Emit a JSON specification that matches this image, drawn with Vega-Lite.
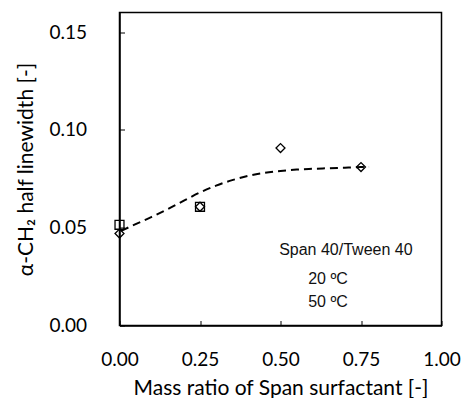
{
  "$schema": "https://vega.github.io/schema/vega-lite/v6.json",
  "width": 322,
  "height": 313,
  "autosize": "none",
  "padding": {"left": 119.5, "top": 12.5, "right": 20.5, "bottom": 72.5},
  "background": "white",
  "config": {
    "view": {"stroke": "#000", "strokeWidth": 1.5},
    "axis": {
      "grid": false,
      "domainColor": "#000",
      "domainWidth": 1.5,
      "tickColor": "#000",
      "tickWidth": 1,
      "labelColor": "#000",
      "titleColor": "#000",
      "labelFont": "Lato",
      "titleFont": "Lato",
      "labelFontSize": 19,
      "titleFontSize": 21,
      "titleFontWeight": "normal",
      "labelFlush": false,
      "labelOverlap": false
    }
  },
  "datasets": {
    "curve": [
      {"x": 0.005, "y": 0.0484},
      {"x": 0.05, "y": 0.0518},
      {"x": 0.1, "y": 0.0555},
      {"x": 0.15, "y": 0.0595},
      {"x": 0.2, "y": 0.0638},
      {"x": 0.25, "y": 0.068},
      {"x": 0.3, "y": 0.0715},
      {"x": 0.35, "y": 0.0743},
      {"x": 0.4, "y": 0.0765},
      {"x": 0.45, "y": 0.078},
      {"x": 0.5, "y": 0.079},
      {"x": 0.55, "y": 0.0797},
      {"x": 0.6, "y": 0.0801},
      {"x": 0.65, "y": 0.0804},
      {"x": 0.7, "y": 0.0807},
      {"x": 0.75, "y": 0.081},
      {"x": 0.775, "y": 0.0811}
    ],
    "points": [
      {"x": 0.0, "y": 0.0515, "temp": "20 ºC"},
      {"x": 0.25, "y": 0.0607, "temp": "20 ºC"},
      {"x": 0.0, "y": 0.047, "temp": "50 ºC"},
      {"x": 0.25, "y": 0.0607, "temp": "50 ºC"},
      {"x": 0.5, "y": 0.0907, "temp": "50 ºC"},
      {"x": 0.75, "y": 0.081, "temp": "50 ºC"}
    ],
    "notes": [
      {"x": 0.703, "y": 0.0385, "label": "Span 40/Tween 40"},
      {"x": 0.6475, "y": 0.0237, "label": "20 ºC"},
      {"x": 0.6475, "y": 0.0121, "label": "50 ºC"}
    ]
  },
  "layer": [
    {
      "data": {"name": "curve"},
      "mark": {"type": "line", "color": "#000", "strokeWidth": 2, "strokeDash": [8, 5], "interpolate": "monotone"},
      "encoding": {
        "x": {
          "field": "x", "type": "quantitative",
          "scale": {"domain": [0, 1], "nice": false},
          "axis": {
            "values": [0, 0.25, 0.5, 0.75, 1],
            "format": ".2f",
            "tickSize": -5,
            "labelPadding": 30,
            "title": "Mass ratio of Span surfactant [-]",
            "titleBaseline": "alphabetic",
            "titleY": 69
          }
        },
        "y": {
          "field": "y", "type": "quantitative",
          "scale": {"domain": [0, 0.16], "nice": false},
          "axis": {
            "values": [0, 0.05, 0.1, 0.15],
            "format": ".2f",
            "tickSize": -5,
            "labelPadding": 38,
            "title": "α-CH₂ half linewidth [-]",
            "titleBaseline": "alphabetic",
            "titleX": -87.5
          }
        }
      }
    },
    {
      "data": {"name": "points"},
      "mark": {"type": "point", "filled": false, "strokeWidth": 1.3, "size": 80, "opacity": 1},
      "encoding": {
        "x": {"field": "x", "type": "quantitative"},
        "y": {"field": "y", "type": "quantitative"},
        "shape": {
          "field": "temp", "type": "nominal",
          "scale": {"domain": ["20 ºC", "50 ºC"], "range": ["square", "diamond"]},
          "legend": null
        },
        "color": {"value": "#000"}
      }
    },
    {
      "data": {"name": "notes"},
      "mark": {"type": "text", "font": "Liberation Sans", "fontSize": 16, "color": "#111", "baseline": "middle", "align": "center"},
      "encoding": {
        "x": {"field": "x", "type": "quantitative"},
        "y": {"field": "y", "type": "quantitative"},
        "text": {"field": "label"}
      }
    }
  ]
}
